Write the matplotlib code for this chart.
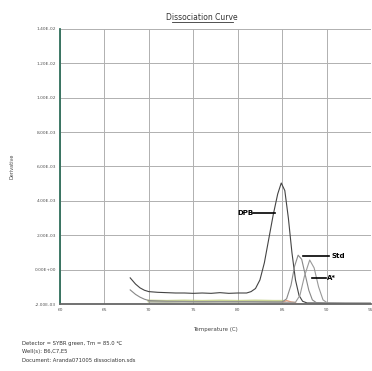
import matplotlib
matplotlib.use("Agg")
import matplotlib.pyplot as plt

# temperature axis and tick labels
temp_ticks = [60, 65, 70, 75, 80, 85, 90, 95]
y_ticks = [0, 1, 2, 3, 4, 5, 6, 7, 8]
y_tick_labels = ["-2.00E-03", "0.00E+00", "2.00E-03", "4.00E-03", "6.00E-03",
                 "8.00E-03", "1.00E-02", "1.20E-02", "1.40E-02"]

# derivative curves (y in grid units)
dpb_temp = [67.9, 68.5, 69.0, 69.5, 70.0, 71, 72, 73, 74, 75, 76, 77, 78, 79, 80, 81,
            81.5, 82.0, 82.5, 83.0, 83.5, 84.0, 84.5, 84.9, 85.3, 85.7, 86.1, 86.5,
            86.9, 87.3, 87.8, 89, 92, 95]
dpb_val = [0.76, 0.58, 0.47, 0.40, 0.36, 0.34, 0.33, 0.32, 0.32, 0.31, 0.32, 0.31, 0.33,
           0.31, 0.32, 0.32, 0.36, 0.45, 0.70, 1.20, 1.90, 2.60, 3.20, 3.52, 3.30, 2.50,
           1.50, 0.70, 0.25, 0.08, 0.03, 0.03, 0.02, 0.02]

std_temp = [67.9, 68.5, 69.0, 69.5, 70.0, 72, 75, 78, 81, 84, 85, 85.5, 86.0, 86.4,
            86.8, 87.2, 87.6, 88.0, 88.4, 88.9, 90, 95]
std_val = [0.41, 0.28, 0.20, 0.14, 0.10, 0.08, 0.07, 0.07, 0.07, 0.06, 0.06, 0.15, 0.55,
           1.10, 1.42, 1.30, 0.85, 0.40, 0.12, 0.03, 0.02, 0.02]

a_temp = [70, 75, 80, 85, 86.5, 87.0, 87.5, 88.1, 88.6, 89.1, 89.6, 90.1, 95]
a_val = [0.06, 0.06, 0.06, 0.05, 0.05, 0.25, 0.80, 1.28, 1.05, 0.50, 0.12, 0.03, 0.02]

ntc_temp = [70, 72, 74, 76, 78, 80, 82, 84, 85]
ntc_val = [0.09, 0.08, 0.09, 0.08, 0.09, 0.08, 0.09, 0.08, 0.08]

red_temp = [85.0, 85.5, 86.0, 86.5]
red_val = [0.05, 0.10, 0.06, 0.04]

# labels: (text, text x, line start x, y)
labels = [("DPB", 80.0, 84.2, 2.65),
          ("Std", 90.3, 87.3, 1.40),
          ("A*", 89.9, 88.4, 0.76)]

footer = ["Detector = SYBR green, Tm = 85.0 \u2103",
          "Well(s): B6,C7,E5",
          "Document: Aranda071005 dissociation.sds"]

fig = plt.figure(figsize=(3.72, 3.71), dpi=100)
ax = fig.add_axes([60 / 372, 67 / 371, 311 / 372, 275 / 371])

ax.plot(ntc_temp, ntc_val, color="#b5c46a", lw=2.0, alpha=0.7)
ax.plot(red_temp, red_val, color="#e8a080", lw=1.0)
ax.plot(dpb_temp, dpb_val, color="#444444", lw=0.8)
ax.plot(std_temp, std_val, color="#888888", lw=0.8)
ax.plot(a_temp, a_val, color="#999999", lw=0.8)

for text, tx, lx, y in labels:
    if tx < lx:
        ax.plot([tx + 0.8 * len(text) * 0.6 + 0.3, lx], [y, y], color="black", lw=1.2)
        ax.text(tx, y, text, fontsize=5, fontweight="bold", va="center", ha="left")
    else:
        ax.plot([lx, tx], [y, y], color="black", lw=1.2)
        ax.text(tx + 0.2, y, text, fontsize=5, fontweight="bold", va="center", ha="left")

ax.set_xlim(60, 95)
ax.set_ylim(0, 8)
ax.set_xticks(temp_ticks)
ax.set_xticklabels([str(t) for t in temp_ticks], fontsize=3.2, color="#555555")
ax.set_yticks(y_ticks)
ax.set_yticklabels(y_tick_labels, fontsize=3.2, color="#555555")
ax.tick_params(length=0, pad=3)
ax.grid(True, color="#b0b0b0", lw=0.7)
ax.set_axisbelow(True)

for s in ["top", "right"]:
    ax.spines[s].set_visible(False)
ax.spines["left"].set_color("#2f6e5a")
ax.spines["left"].set_linewidth(1.3)
ax.spines["bottom"].set_color("#666666")
ax.spines["bottom"].set_linewidth(1.3)

ax.set_xlabel("Temperature (C)", fontsize=4, color="#444444", labelpad=11)
ax.set_ylabel("Derivative", fontsize=3.5, color="#444444", labelpad=14)

fig.text(202 / 372, 1 - 18 / 371, "Dissociation Curve", fontsize=5.5, ha="center",
         va="center", color="#333333")
fig.add_artist(plt.Line2D([172 / 372, 233 / 372], [1 - 22 / 371, 1 - 22 / 371],
                          color="#333333", lw=0.6))

for i, line in enumerate(footer):
    fig.text(22 / 372, 1 - (344 + 8 * i) / 371, line, fontsize=3.8, color="#333333",
             va="center", ha="left")

fig.savefig("out.png", dpi=100)
